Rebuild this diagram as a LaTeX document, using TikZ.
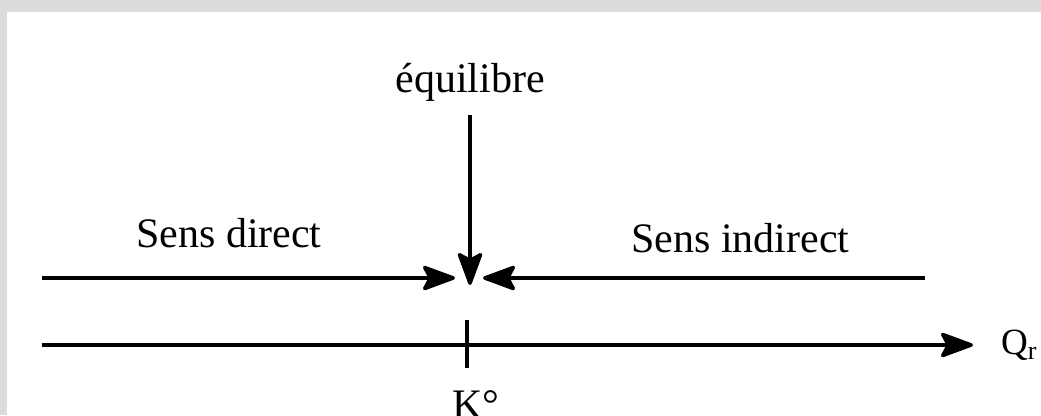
\documentclass[tikz,border=0pt]{standalone}
\usepackage{fontspec}
\setmainfont{Liberation Serif}
\usetikzlibrary{arrows.meta}
\definecolor{framegray}{HTML}{DCDCDC}
\tikzset{
  lbl/.style={inner sep=0pt, anchor=base west, font=\fontsize{42}{46}\selectfont},
  bigarrow/.style={line width=3.5pt, -{Stealth[length=37pt, width=27pt, inset=7pt, round]}},
  plainline/.style={line width=3.5pt}
}
\begin{document}
\begin{tikzpicture}[x=1pt,y=-1pt]
\useasboundingbox (0,0) rectangle (1041,415);
\fill[framegray] (0,0) rectangle (1041,415);
\fill[white] (7,12) rectangle (1041,415);
% labels
\node[lbl, anchor=base] (eq) at (470,92) {équilibre};
\node[lbl] (sd) at (136,247) {Sens direct};
\node[lbl] (si) at (631,252) {Sens indirect};
\node[inner sep=0pt, anchor=base west, font=\fontsize{37}{40}\selectfont] (qr) at (1001,354) {Q\raisebox{-5pt}{\fontsize{26}{28}\selectfont r}};
\node[lbl, anchor=base] (k) at (476,418) {K°};
% coordinates
\coordinate (vtop) at (470,115);
\coordinate (vtip) at (470,285);
\coordinate (lstart) at (42,278);
\coordinate (ltip) at (455,278);
\coordinate (rstart) at (925,278);
\coordinate (rtip) at (483,278);
\coordinate (astart) at (42,345);
\coordinate (atip) at (973,345);
\coordinate (ttop) at (467,320);
\coordinate (tbot) at (467,368);
% arrows
\draw[bigarrow] (vtop) -- (vtip);
\draw[bigarrow] (lstart) -- (ltip);
\draw[bigarrow] (rstart) -- (rtip);
\draw[bigarrow] (astart) -- (atip);
\draw[plainline] (ttop) -- (tbot);
\end{tikzpicture}
\end{document}
